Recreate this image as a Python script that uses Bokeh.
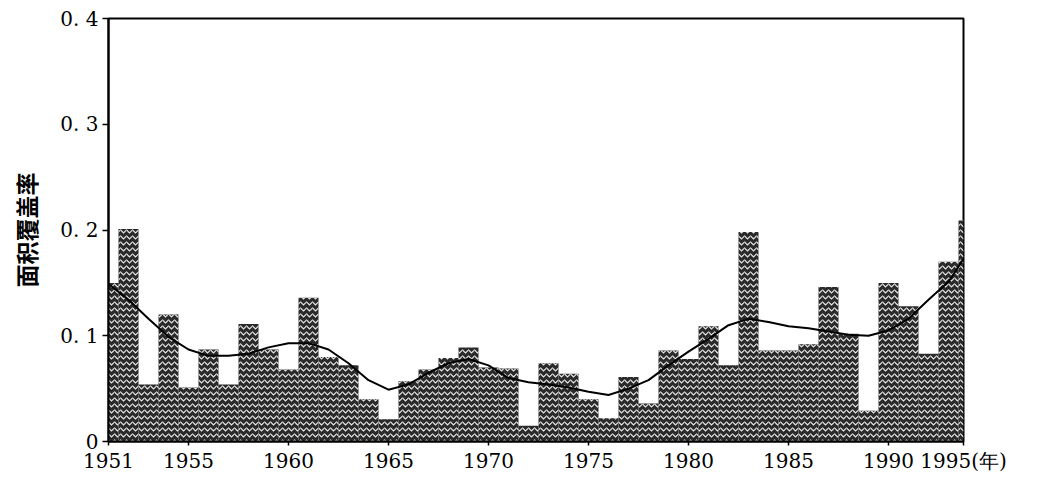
from bokeh.plotting import figure
from bokeh.models import Range1d, FixedTicker, ColumnDataSource
from bokeh.embed import file_html
from bokeh.resources import INLINE

# Data
years = list(range(1951, 1995))
coverage = [0.150, 0.201, 0.054, 0.120, 0.051, 0.087, 0.054, 0.111, 0.087, 0.068,
            0.136, 0.080, 0.072, 0.040, 0.021, 0.057, 0.068, 0.079, 0.089, 0.070,
            0.069, 0.015, 0.074, 0.064, 0.040, 0.022, 0.061, 0.036, 0.086, 0.078,
            0.109, 0.072, 0.198, 0.086, 0.086, 0.092, 0.146, 0.102, 0.029, 0.150,
            0.128, 0.083, 0.170, 0.209]
smooth = [0.149, 0.134, 0.116, 0.099, 0.087, 0.081, 0.081, 0.083, 0.089, 0.093,
          0.093, 0.087, 0.074, 0.058, 0.049, 0.054, 0.065, 0.074, 0.078, 0.072,
          0.060, 0.056, 0.054, 0.051, 0.047, 0.044, 0.050, 0.058, 0.072, 0.085,
          0.097, 0.110, 0.116, 0.113, 0.109, 0.107, 0.104, 0.101, 0.100, 0.105,
          0.116, 0.134, 0.151, 0.180]
x_ticks = [1951, 1955, 1960, 1965, 1970, 1975, 1980, 1985, 1990, 1993.75]
x_labels = ["1951", "1955", "1960", "1965", "1970", "1975", "1980", "1985", "1990", "1995(年)"]
y_ticks = [0, 0.1, 0.2, 0.3, 0.4]
y_labels = ["0", "0. 1", "0. 2", "0. 3", "0. 4"]

src = ColumnDataSource(dict(year=years, cov=coverage, sm=smooth))

p = figure(width=1042, height=475, output_backend="svg", toolbar_location=None,
           x_range=Range1d(1951, 1993.75), y_range=Range1d(0, 0.4),
           min_border_left=108, min_border_right=79, min_border_top=18, min_border_bottom=32)

p.vbar(x="year", top="cov", width=1.0, source=src, fill_color="#2a2a2a",
       hatch_pattern="horizontal_wave", hatch_color="#e8e8e8", hatch_scale=6,
       hatch_weight=1.2, line_color=None)
p.line(x="year", y="sm", source=src, line_color="black", line_width=2)

p.xgrid.visible = False
p.ygrid.visible = False
p.outline_line_color = "black"
p.outline_line_width = 2

tick_font = "DejaVu Serif"
p.xaxis.ticker = FixedTicker(ticks=x_ticks)
p.xaxis.major_label_overrides = {t: l for t, l in zip(x_ticks, x_labels)}
p.yaxis.ticker = FixedTicker(ticks=y_ticks)
p.yaxis.major_label_overrides = {t: l for t, l in zip(y_ticks, y_labels)}

for ax in (p.xaxis[0], p.yaxis[0]):
    ax.axis_line_color = "black"
    ax.axis_line_width = 2
    ax.major_tick_line_color = "black"
    ax.major_tick_line_width = 1.5
    ax.major_tick_in = 0
    ax.minor_tick_line_color = None
    ax.major_label_text_font = tick_font
    ax.major_label_text_font_size = "20px"
    ax.major_label_text_color = "black"

p.xaxis.major_tick_out = 4
p.xaxis.major_label_standoff = 3
p.yaxis.major_tick_out = 6
p.yaxis.major_label_standoff = 4

p.yaxis.axis_label = "面积覆盖率"
p.yaxis.axis_label_text_font = "Noto Sans CJK SC"
p.yaxis.axis_label_text_font_style = "bold"
p.yaxis.axis_label_text_font_size = "23px"
p.yaxis.axis_label_text_color = "black"
p.yaxis.axis_label_standoff = 14

open("out.html", "w").write(file_html(p, INLINE))
